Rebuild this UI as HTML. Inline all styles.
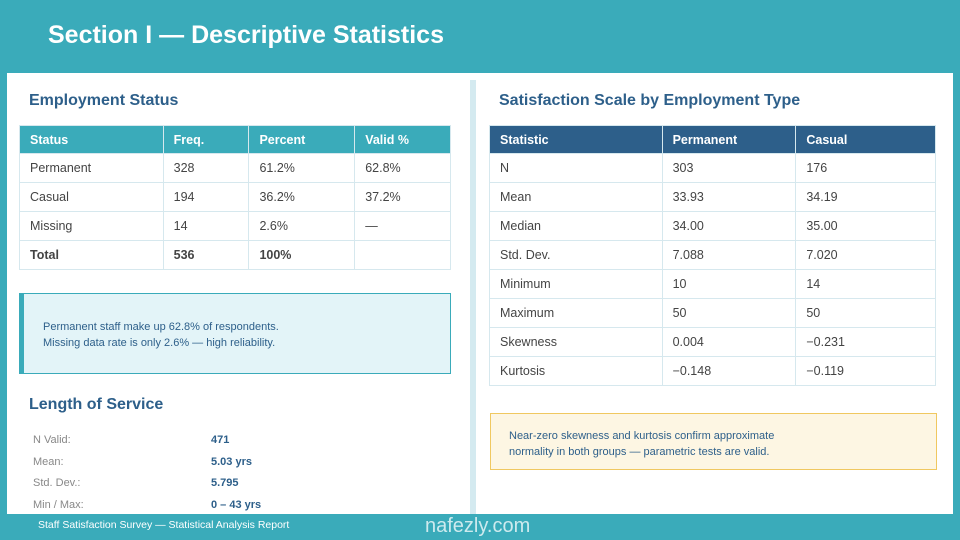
<!DOCTYPE html>
<html><head><meta charset="utf-8">
<style>
*{margin:0;padding:0;box-sizing:border-box}
body{width:960px;height:540px;background:#3aabba;font-family:"Liberation Sans",sans-serif;position:relative;overflow:hidden;color:#444}
.abs{position:absolute}
h1{position:absolute;left:48px;top:21px;font-size:25px;color:#fff;font-weight:bold}
.panel{left:7px;top:73px;width:946px;height:441px;background:#fff}
.div{left:470px;top:80px;width:6px;height:434px;background:#d4eaf0}
h2{position:absolute;font-size:16px;color:#2d5f8a;font-weight:bold}
table{position:absolute;border-collapse:collapse;font-size:12.5px}
td,th{border:1px solid #d6e8ee;padding:0 10px;height:29px;text-align:left;color:#444;font-weight:normal}
th{color:#fff;font-weight:bold;height:28px}
.t1 th{background:#3aabba}
.t2 th{background:#2d5f8a}
.b td{font-weight:bold}
.note{font-size:11px;line-height:16px;color:#2d5f8a}
.kv{font-size:11px;color:#888}
.kv b{color:#2d5f8a}
</style></head><body>
<h1>Section I — Descriptive Statistics</h1>
<div class="abs panel"></div>
<div class="abs div"></div>

<h2 style="left:29px;top:92px">Employment Status</h2>
<table class="t1" style="left:19px;top:125px;width:432px">
<colgroup><col style="width:144px"><col style="width:86px"><col style="width:106px"><col style="width:96px"></colgroup>
<tr><th>Status</th><th>Freq.</th><th>Percent</th><th>Valid %</th></tr>
<tr><td>Permanent</td><td>328</td><td>61.2%</td><td>62.8%</td></tr>
<tr><td>Casual</td><td>194</td><td>36.2%</td><td>37.2%</td></tr>
<tr><td>Missing</td><td>14</td><td>2.6%</td><td>—</td></tr>
<tr class="b"><td>Total</td><td>536</td><td>100%</td><td></td></tr>
</table>

<div class="abs note" style="left:19px;top:293px;width:432px;height:81px;background:#e3f4f8;border:1px solid #3aabba;border-left:5px solid #3aabba;padding:25px 0 0 19px">Permanent staff make up 62.8% of respondents.<br>Missing data rate is only 2.6% — high reliability.</div>

<h2 style="left:29px;top:396px">Length of Service</h2>
<div class="abs kv" style="left:33px;top:430px;line-height:21.5px">N Valid:<br>Mean:<br>Std. Dev.:<br>Min / Max:</div>
<div class="abs kv" style="left:211px;top:430px;line-height:21.5px"><b>471</b><br><b>5.03 yrs</b><br><b>5.795</b><br><b>0 – 43 yrs</b></div>

<h2 style="left:499px;top:92px">Satisfaction Scale by Employment Type</h2>
<table class="t2" style="left:489px;top:125px;width:447px">
<colgroup><col style="width:173px"><col style="width:134px"><col style="width:140px"></colgroup>
<tr><th>Statistic</th><th>Permanent</th><th>Casual</th></tr>
<tr><td>N</td><td>303</td><td>176</td></tr>
<tr><td>Mean</td><td>33.93</td><td>34.19</td></tr>
<tr><td>Median</td><td>34.00</td><td>35.00</td></tr>
<tr><td>Std. Dev.</td><td>7.088</td><td>7.020</td></tr>
<tr><td>Minimum</td><td>10</td><td>14</td></tr>
<tr><td>Maximum</td><td>50</td><td>50</td></tr>
<tr><td>Skewness</td><td>0.004</td><td>−0.231</td></tr>
<tr><td>Kurtosis</td><td>−0.148</td><td>−0.119</td></tr>
</table>

<div class="abs note" style="left:490px;top:413px;width:447px;height:57px;background:#fdf6e3;border:1px solid #f0c860;padding:14px 0 0 18px">Near-zero skewness and kurtosis confirm approximate<br>normality in both groups — parametric tests are valid.</div>

<div class="abs" style="left:38px;top:519px;font-size:10.5px;color:#fff">Staff Satisfaction Survey — Statistical Analysis Report</div>
<div class="abs" style="left:425px;top:515px;font-size:20px;color:rgba(255,255,255,0.75)">nafezly.com</div>
</body></html>
